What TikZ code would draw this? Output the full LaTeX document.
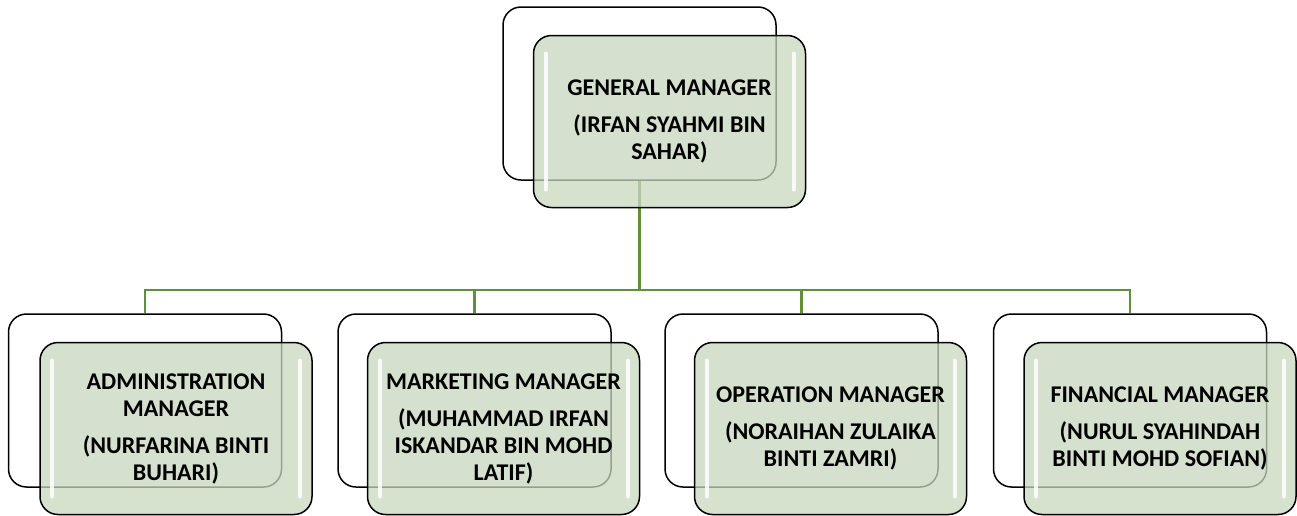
\documentclass[tikz,border=0pt]{standalone}
\usepackage{fontspec}
\setmainfont{Carlito}
\usepackage{tikz}

\definecolor{boxgreen}{RGB}{200,216,190}
\definecolor{linegreen}{RGB}{95,145,60}

\begin{document}
\begin{tikzpicture}[x=1pt, y=-1pt,
    every node/.style={font=\fontsize{24}{27}\selectfont\bfseries, align=center},
    backbox/.style={draw=black, line width=1.5pt, rounded corners=18pt, fill=white, minimum width=273pt, minimum height=173pt, inner sep=0pt},
    frontbox/.style={draw=black, line width=1.5pt, rounded corners=18pt, fill=boxgreen, fill opacity=0.75, text opacity=1, minimum width=272pt, minimum height=172pt, inner sep=0pt,
        path picture={
            \draw[white, line width=4pt, line cap=round, opacity=0.85] ([shift={(12pt,-18pt)}]path picture bounding box.north west) -- ([shift={(12pt,18pt)}]path picture bounding box.south west);
            \draw[white, line width=4pt, line cap=round, opacity=0.85] ([shift={(-12pt,-18pt)}]path picture bounding box.north east) -- ([shift={(-12pt,18pt)}]path picture bounding box.south east);
        }},
    orgline/.style={draw=linegreen, line width=2.2pt}]
    \useasboundingbox (0,0) rectangle (1297,515);

    % back boxes
    \node[backbox] (gmback) at (639.5,93.5){};
    \node[backbox] (admback) at (145,400.5){};
    \node[backbox] (mktback) at (474.5,400.5){};
    \node[backbox] (opback) at (801.5,400.5){};
    \node[backbox] (finback) at (1130,400.5){};

    % connectors
    \coordinate (hub) at (639.5,290);
    \path[orgline] (gmback.south) -- (hub);
    \path[orgline] (hub) -| (admback.north);
    \path[orgline] (hub) -| (mktback.north);
    \path[orgline] (hub) -| (opback.north);
    \path[orgline] (hub) -| (finback.north);

    % front boxes
    \node[frontbox] (gm) at ([shift={(30,28)}]gmback){GENERAL MANAGER\\[10pt](IRFAN SYAHMI BIN\\SAHAR)};
    \node[frontbox] (adm) at ([shift={(31,28)}]admback){ADMINISTRATION\\MANAGER\\[10pt](NURFARINA BINTI\\BUHARI)};
    \node[frontbox] (mkt) at ([shift={(29,28)}]mktback){MARKETING MANAGER\\[10pt](MUHAMMAD IRFAN\\ISKANDAR BIN MOHD\\LATIF)};
    \node[frontbox] (op) at ([shift={(29,28)}]opback){OPERATION MANAGER\\[10pt](NORAIHAN ZULAIKA\\BINTI ZAMRI)};
    \node[frontbox] (fin) at ([shift={(30,28)}]finback){FINANCIAL MANAGER\\[10pt](NURUL SYAHINDAH\\BINTI MOHD SOFIAN)};
\end{tikzpicture}
\end{document}
